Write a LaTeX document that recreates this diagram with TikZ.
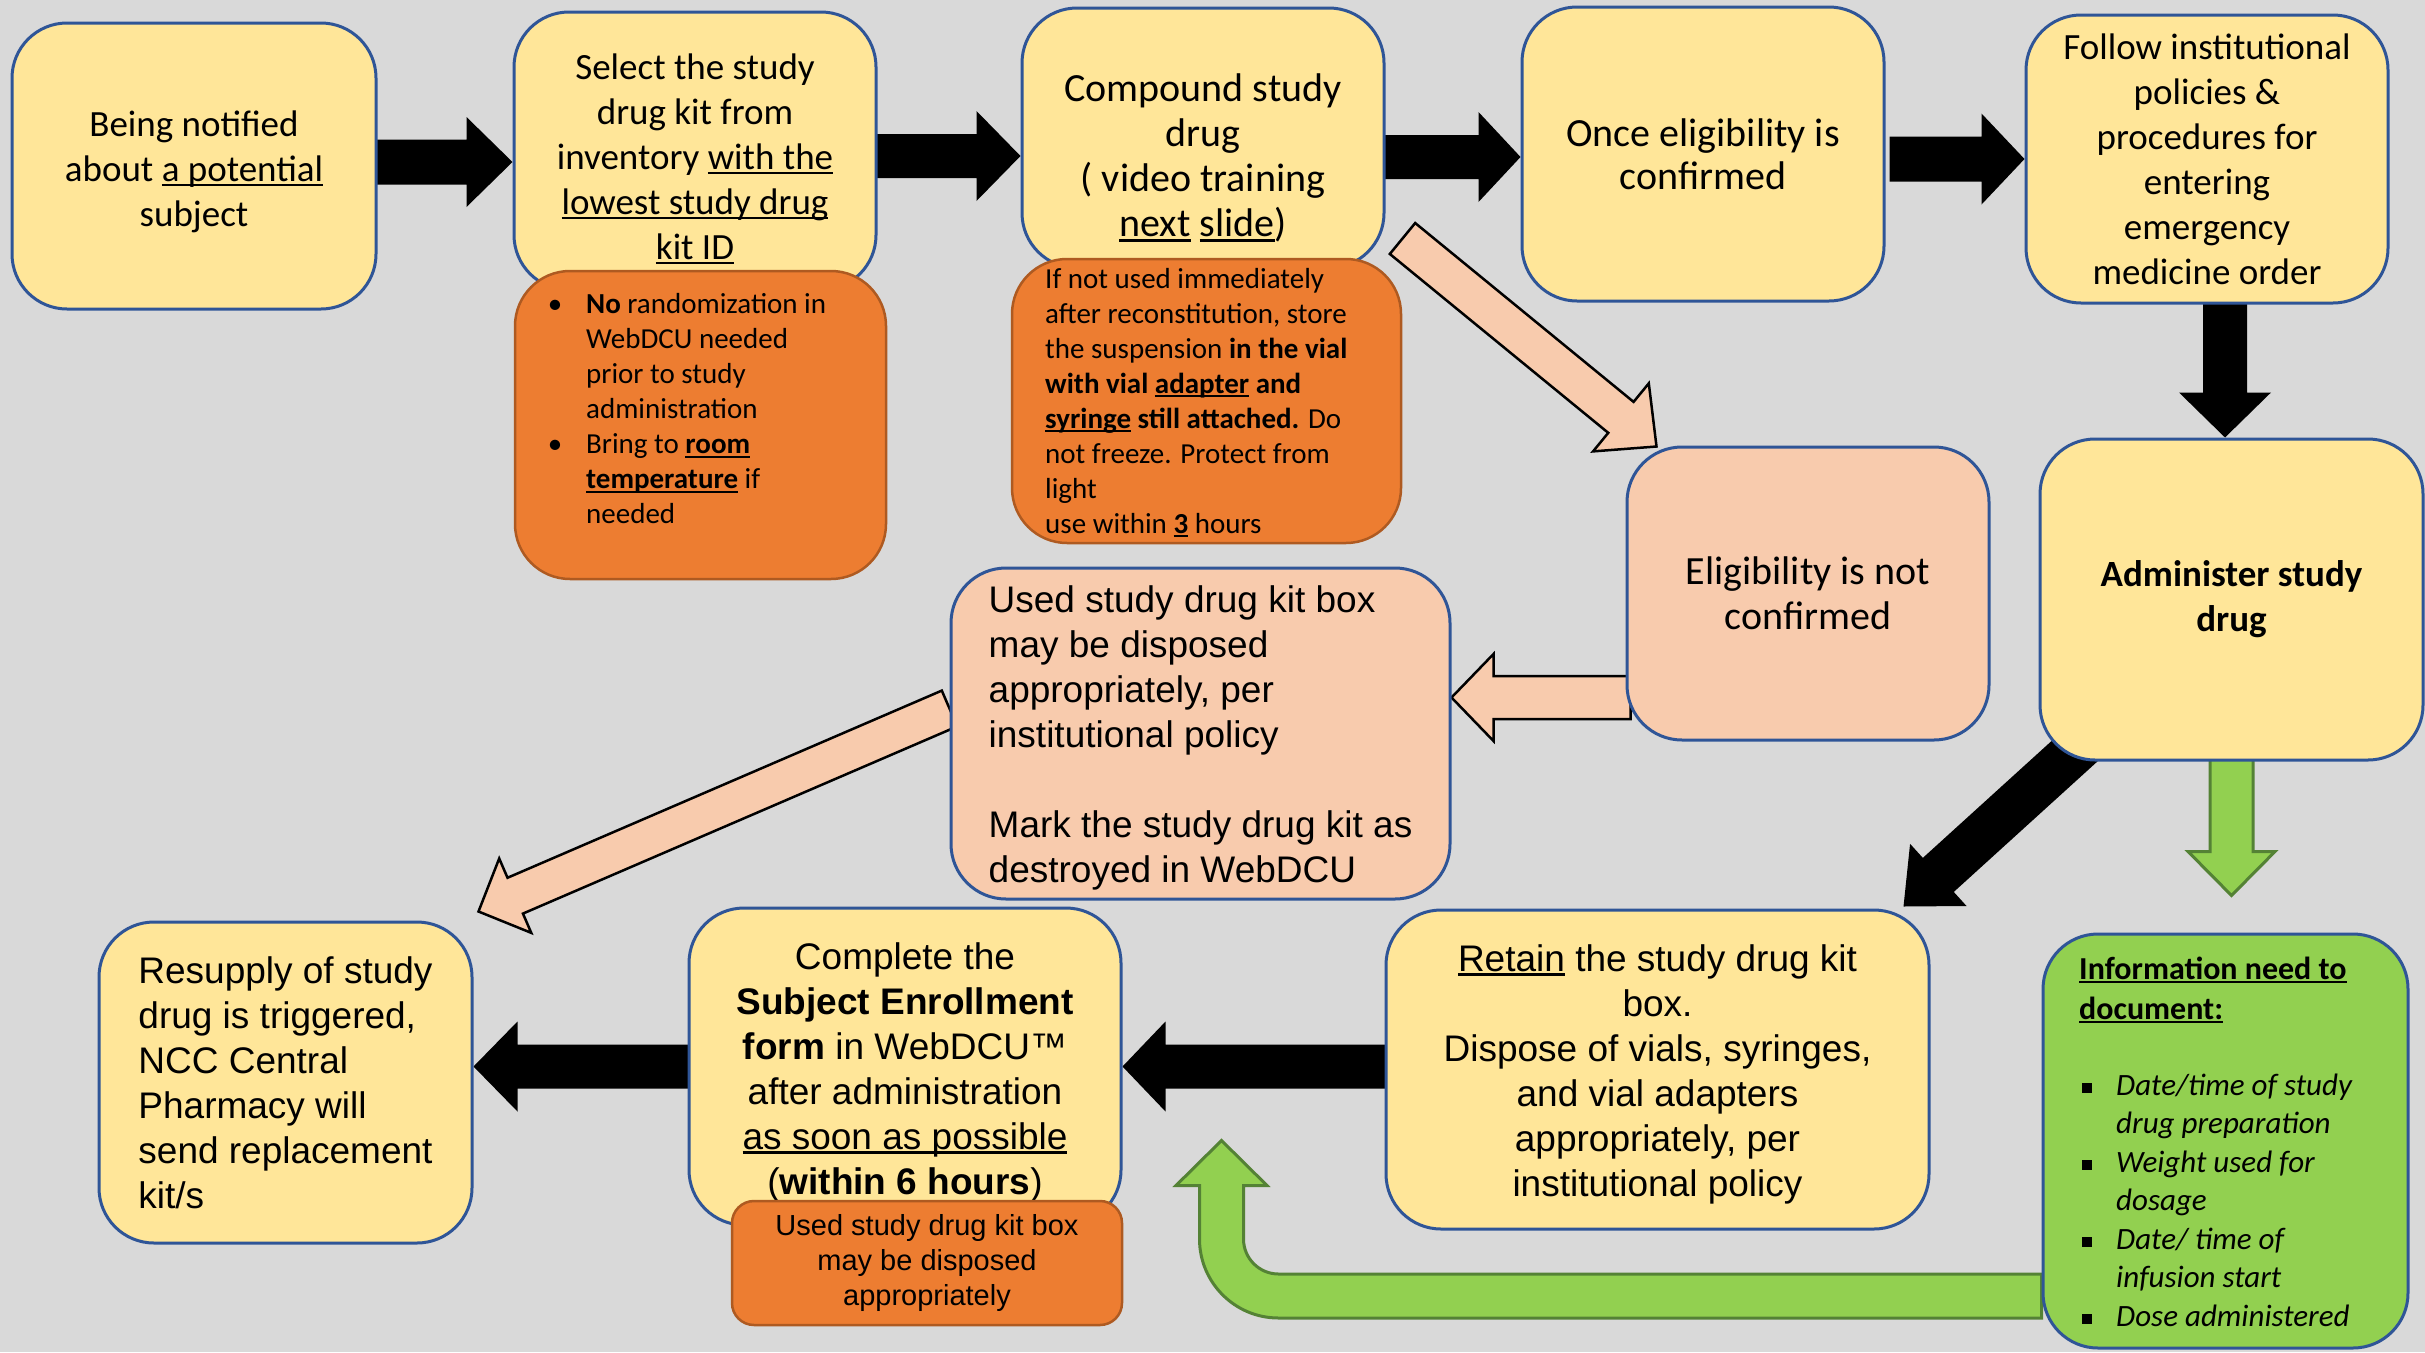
\documentclass[tikz,border=0pt]{standalone}
\usepackage{fontspec}
\setmainfont{Carlito}
\newfontfamily\arialf{Liberation Sans}
\usetikzlibrary{calc}
\definecolor{bgc}{HTML}{D9D9D9}
\definecolor{yel}{HTML}{FFE699}
\definecolor{bdr}{HTML}{2F5597}
\definecolor{org}{HTML}{ED7D31}
\definecolor{orgb}{HTML}{AE5A21}
\definecolor{pch}{HTML}{F8CBAD}
\definecolor{grn}{HTML}{92D050}
\definecolor{grnb}{HTML}{548235}
\pgfdeclarelayer{bgl}\pgfdeclarelayer{arr}\pgfsetlayers{bgl,arr,main}
\newsavebox{\ulnbox}
\newcommand{\uln}[1]{\leavevmode\sbox{\ulnbox}{#1}\rlap{\rule[-0.13em]{\wd\ulnbox}{0.07em}}\usebox{\ulnbox}}
\newcommand{\blockarr}[6]{%
  \coordinate (ba-b) at ($(#3)!#6!(#2)$);
  \path[#1] ($(#2)!#4!90:(#3)$) -- ($(ba-b)!#4!90:(#3)$) -- ($(ba-b)!#5!90:(#3)$) -- (#3)
    -- ($(ba-b)!#5!-90:(#3)$) -- ($(ba-b)!#4!-90:(#3)$) -- ($(#2)!#4!-90:(#3)$) -- cycle;}
\newcommand{\bul}{\llap{\textbullet\hspace{24pt}}}
\newcommand{\sqb}{\llap{\rule[2.5pt]{10pt}{10pt}\hspace{24pt}}}
\tikzset{
 box/.style={draw=bdr, line width=3pt, rounded corners=55pt, inner sep=0pt},
 ybox/.style={box, fill=yel},
 pbox/.style={box, fill=pch},
 gbox/.style={box, fill=grn},
 obox/.style={draw=orgb, line width=2.5pt, fill=org, rounded corners=55pt, inner sep=0pt},
 cal/.style={font=\fontsize{37}{45}\selectfont, align=center},
 calL/.style={font=\fontsize{40}{45}\selectfont, align=center},
 ari/.style={font=\arialf\fontsize{37}{45}\selectfont, align=center},
 small/.style={font=\fontsize{29}{35}\selectfont, align=left, inner sep=0pt},
 blk/.style={fill=black},
 parrow/.style={fill=pch, draw=black, line width=2.5pt, line join=miter},
 garrow/.style={fill=grn, draw=grnb, line width=3pt, line join=miter},
}
\begin{document}
\begin{tikzpicture}[x=1pt,y=-1pt]
\useasboundingbox (0,0) rectangle (2425,1352);
\begin{pgfonlayer}{bgl}
\fill[bgc] (0,0) rectangle (2425,1352);
\end{pgfonlayer}

% top row
\node[ybox, minimum width=364pt, minimum height=286pt] (A) at (194,166) {};
\node[cal] (At) at (194,172)
  {Being notified\\about \uln{a potential}\\subject};
\node[ybox, minimum width=362pt, minimum height=278pt] (B) at (695,151) {};
\node[cal] (Bt) at (695,159)
  {Select the study\\drug kit from\\inventory \uln{with the}\\\uln{lowest study drug}\\\uln{kit ID}};
\node[obox, minimum width=371pt, minimum height=308pt] (Bo) at (700.5,425) {};
\node[small, anchor=west] (Bot) at (586,409)
  {\bul\textbf{No} randomization in\\WebDCU needed\\prior to study\\administration\\
   \bul Bring to \textbf{\uln{room}}\\\textbf{\uln{temperature}} if\\needed};

\node[ybox, minimum width=362pt, minimum height=260pt] (C) at (1203,138) {};
\node[calL] (Ct) at (1203,158)
  {Compound study\\drug\\( video training\\\uln{next} \uln{slide})};
\node[obox, minimum width=389pt, minimum height=284pt] (Co) at (1206.5,401) {};
\node[small, anchor=west] (Cot) at (1045,403)
  {If not used immediately\\after reconstitution, store\\the suspension \textbf{in the vial}\\
   \textbf{with vial \uln{adapter} and}\\\textbf{\uln{syringe} still attached.} Do\\
   not freeze. Protect from\\light\\use within \textbf{\uln{3}} hours};

\node[ybox, minimum width=362pt, minimum height=294pt, font=\fontsize{40}{43}\selectfont, align=center] (D) at (1703,154)
  {Once eligibility is\\confirmed};
\node[ybox, minimum width=362pt, minimum height=288pt, cal] (E) at (2207,159)
  {Follow institutional\\policies \&\\procedures for\\entering\\emergency\\medicine order};

% middle row
\node[pbox, minimum width=362pt, minimum height=293pt, calL] (F) at (1808,593.5)
  {Eligibility is not\\confirmed};
\node[ybox, minimum width=383pt, minimum height=321pt, align=center, font={\bfseries\fontsize{37}{45}\selectfont}] (G) at (2231.5,599.5)
  {Administer study\\drug};
\node[pbox, minimum width=499pt, minimum height=331pt] (H) at (1200.5,733.5) {};
\node[ari, align=left] (Ht) at (1200.5,738)
  {Used study drug kit box\\may be disposed\\appropriately, per\\institutional policy\\[45pt]
   Mark the study drug kit as\\destroyed in WebDCU};

% bottom row
\node[ybox, minimum width=543pt, minimum height=319pt] (I) at (1657.5,1069.5) {};
\node[ari] (It) at (1657.5,1074)
  {\uln{Retain} the study drug kit\\box.\\Dispose of vials, syringes,\\and vial adapters\\appropriately, per\\institutional policy};
\node[gbox, minimum width=365pt, minimum height=414pt] (J) at (2225.5,1141) {};
\node[anchor=west, inner sep=0pt, align=left, font=\bfseries\fontsize{32}{40}\selectfont] (Jh) at (2079,990)
  {\uln{Information need to}\\\uln{document:}};
\node[anchor=west, inner sep=0pt, align=left, font=\itshape\fontsize{31}{38.5}\selectfont] (Ji) at (2116,1200)
  {\sqb Date/time of study\\drug preparation\\\sqb Weight used for\\dosage\\\sqb Date/ time of\\infusion start\\\sqb Dose administered};
\node[ybox, minimum width=432pt, minimum height=317pt] (K) at (905,1066.5) {};
\node[ari] (Kt) at (905,1072)
  {Complete the\\\textbf{Subject Enrollment}\\\textbf{form} in WebDCU™\\after administration\\\uln{as soon as possible}\\(\textbf{within 6 hours})};
\node[obox, rounded corners=22pt, minimum width=390pt, minimum height=124pt, font=\arialf\fontsize{29}{35}\selectfont, align=center] (Ko) at (927,1263)
  {Used study drug kit box\\may be disposed\\appropriately};
\node[ybox, minimum width=373pt, minimum height=321pt, ari, align=left] (L) at (285.5,1082.5)
  {Resupply of study\\drug is triggered,\\NCC Central\\Pharmacy will\\send replacement\\kit/s};

% connectors
\begin{pgfonlayer}{arr}
\coordinate (ab1) at ($(A.east)+(-5,-4)$);
\coordinate (ab2) at (B.west |- ab1);
\blockarr{blk}{ab1}{ab2}{22.5pt}{45pt}{46pt}
\coordinate (bc1) at ($(B.east)+(-5,5)$);
\coordinate (bc2) at (C.west |- bc1);
\blockarr{blk}{bc1}{bc2}{22pt}{45pt}{44pt}
\coordinate (cd1) at ($(C.east)+(-5,19)$);
\coordinate (cd2) at (D.west |- cd1);
\blockarr{blk}{cd1}{cd2}{22pt}{45pt}{42pt}
\coordinate (de1) at ($(D.east)+(4,5)$);
\coordinate (de2) at (E.west |- de1);
\blockarr{blk}{de1}{de2}{22.5pt}{45.5pt}{43pt}
\coordinate (eg1) at ($(E.south)+(18,-5)$);
\coordinate (eg2) at (eg1 |- G.north);
\blockarr{blk}{eg1}{eg2}{22pt}{46pt}{45pt}
\coordinate (gi1) at ($(G.south west)+(50,-23)$);
\coordinate (gi2) at ($(I.north east)+(-27,-2)$);
\blockarr{blk}{gi1}{gi2}{23pt}{42pt}{47pt}
\coordinate (cf1) at ($(C.south east)+(17,-31)$);
\coordinate (cf2) at ($(F.north west)+(31,1)$);
\blockarr{parrow}{cf1}{cf2}{20pt}{44pt}{46pt}
\coordinate (fh1) at ($(F.west)+(5,104)$);
\coordinate (fh2) at (H.east |- fh1);
\blockarr{parrow}{fh1}{fh2}{21.5pt}{43.5pt}{42pt}
\coordinate (hl1) at ($(H.west)+(0,-25)$);
\coordinate (hl2) at ($(L.north east)+(5,-9)$);
\blockarr{parrow}{hl1}{hl2}{19.5pt}{40.5pt}{40pt}
\coordinate (ik1) at ($(I.west)+(5,-3)$);
\coordinate (ik2) at (K.east |- ik1);
\blockarr{blk}{ik1}{ik2}{22pt}{45pt}{43pt}
\coordinate (kl1) at ($(K.west)+(5,0)$);
\coordinate (kl2) at (L.east |- kl1);
\blockarr{blk}{kl1}{kl2}{22pt}{45pt}{44pt}
\coordinate (gj1) at ($(G.south)+(0,-5)$);
\coordinate (gj2) at ($(J.north)+(6,-37)$);
\blockarr{garrow}{gj1}{gj2}{21.5pt}{43.5pt}{44pt}
% U-turn green arrow from J up to I's lower-left
\coordinate (ju1) at ($(J.west)+(0,155)$);
\coordinate (ju2) at ($(I.south west)+(-163,-90)$);
\path[garrow] let \p1=(ju1), \p2=(ju2) in
  (\x1,\y1+22pt) -- (\x2+57pt,\y1+22pt)
  arc[start angle=270, end angle=180, radius=35pt]
  -- (\x2+22pt,\y2-45pt) -- (\x2+45.5pt,\y2-45pt) -- (\x2,\y2) -- (\x2-45.5pt,\y2-45pt)
  -- (\x2-22pt,\y2-45pt) -- (\x2-22pt,\y1-22pt+79pt)
  arc[start angle=180, end angle=270, radius=79pt]
  -- (\x1,\y1-22pt) -- cycle;
\end{pgfonlayer}
\end{tikzpicture}
\end{document}
